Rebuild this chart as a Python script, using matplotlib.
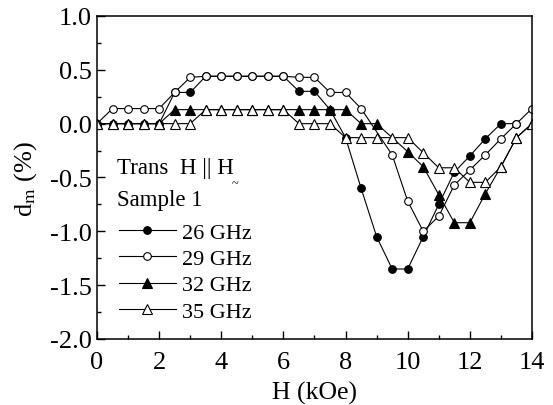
import matplotlib
matplotlib.use("Agg")
import matplotlib.pyplot as plt
from matplotlib.ticker import MultipleLocator

plt.rcParams['font.family'] = ['Liberation Serif', 'DejaVu Serif']
plt.rcParams['mathtext.fontset'] = 'stix'

# 26 GHz (filled circles)
h_26 = [0, 0.5, 1, 1.5, 2, 2.5, 3, 3.5, 4, 4.5, 5, 5.5, 6, 6.5, 7, 7.5, 8, 8.5, 9, 9.5, 10,
        10.5, 11, 11.5, 12, 12.5, 13, 13.5]
d_26 = [0, 0, 0, 0, 0, 0.29, 0.29, 0.44, 0.44, 0.44, 0.44, 0.44, 0.44, 0.30, 0.30, 0.13, -0.13, -0.60,
        -1.05, -1.35, -1.35, -1.05, -0.75, -0.45, -0.30, -0.14, 0.0, 0.0]

# 29 GHz (open circles)
h_29 = [0, 0.5, 1, 1.5, 2, 2.5, 3, 3.5, 4, 4.5, 5, 5.5, 6, 6.5, 7, 7.5, 8, 8.5, 9.5, 10,
        10.5, 11, 11.5, 12, 12.5, 13, 13.5, 14]
d_29 = [0, 0.14, 0.14, 0.14, 0.14, 0.29, 0.43, 0.44, 0.44, 0.44, 0.44, 0.44, 0.44, 0.43, 0.43, 0.29, 0.29,
        0.14, -0.29, -0.72, -1.0, -0.86, -0.57, -0.43, -0.29, -0.14, 0.0, 0.14]

# 32 GHz (filled triangles)
h_32 = [0, 0.5, 1, 1.5, 2, 2.5, 3, 3.5, 4, 4.5, 5, 5.5, 6, 6.5, 7, 7.5, 8, 8.5, 9, 10,
        10.5, 11, 11.5, 12, 12.5, 13, 13.5, 14]
d_32 = [0, 0, 0, 0, 0, 0.13, 0.13, 0.13, 0.13, 0.13, 0.13, 0.13, 0.13, 0.13, 0.13, 0.13, 0.13, 0.0,
        0.0, -0.26, -0.40, -0.66, -0.92, -0.92, -0.65, -0.40, -0.13, 0.0]

# 35 GHz (open triangles)
h_35 = [0, 0.5, 1, 1.5, 2, 2.5, 3, 3.5, 4, 4.5, 5, 5.5, 6, 6.5, 7, 7.5, 8, 8.5, 9, 9.5, 10,
        10.5, 11, 11.5, 12, 12.5, 13, 13.5, 14]
d_35 = [0, 0, 0, 0, 0, 0, 0, 0.13, 0.13, 0.13, 0.13, 0.13, 0.13, 0.0, 0.0, 0.0, -0.13, -0.13,
        -0.13, -0.13, -0.13, -0.27, -0.41, -0.41, -0.545, -0.545, -0.40, -0.13, 0.0]

fig = plt.figure(figsize=(5.53, 4.06), dpi=100)
ax = fig.add_axes([0.1754, 0.1626, 0.7866, 0.7956])

line_kw = dict(color='black', linewidth=0.8, markeredgecolor='black', markeredgewidth=0.8)
ax.plot(h_26, d_26, marker='o', markersize=5.5, markerfacecolor='black', label='26 GHz', **line_kw)
ax.plot(h_29, d_29, marker='o', markersize=5.5, markerfacecolor='white', label='29 GHz', **line_kw)
ax.plot(h_32, d_32, marker='^', markersize=6.5, markerfacecolor='black', label='32 GHz', **line_kw)
ax.plot(h_35, d_35, marker='^', markersize=6.5, markerfacecolor='white', label='35 GHz', **line_kw)

ax.set_xlim(0, 14)
ax.set_ylim(-2.0, 1.0)
ax.xaxis.set_major_locator(MultipleLocator(2))
ax.xaxis.set_minor_locator(MultipleLocator(1))
ax.yaxis.set_major_locator(MultipleLocator(0.5))
ax.yaxis.set_minor_locator(MultipleLocator(0.25))
ax.yaxis.set_major_formatter(plt.FuncFormatter(lambda v, p: f"{v:.1f}"))
ax.tick_params(which='both', direction='in', labelsize=19, top=False, right=False)
ax.tick_params(which='major', length=6, width=1)
ax.tick_params(which='minor', length=3, width=1)
ax.tick_params(axis='x', pad=9)
for s in ax.spines.values():
    s.set_linewidth(1.1)

ax.set_xlabel('H (kOe)', fontsize=18.5, labelpad=5)
ax.set_ylabel(r'd$_\mathrm{m}$ (%)', fontsize=19, labelpad=8)

ax.text(0.045, 0.515, 'Trans  H || H', transform=ax.transAxes, fontsize=16.5)
ax.text(0.31, 0.472, '~', transform=ax.transAxes, fontsize=9)
ax.text(0.045, 0.415, 'Sample 1', transform=ax.transAxes, fontsize=16.5)

ax.legend(loc='upper left', bbox_to_anchor=(0.015, 0.41), frameon=False, fontsize=16,
          handlelength=2.55, handletextpad=0.3, labelspacing=0.26, numpoints=1,
          borderpad=0.2)

fig.savefig('out.png', dpi=100)
